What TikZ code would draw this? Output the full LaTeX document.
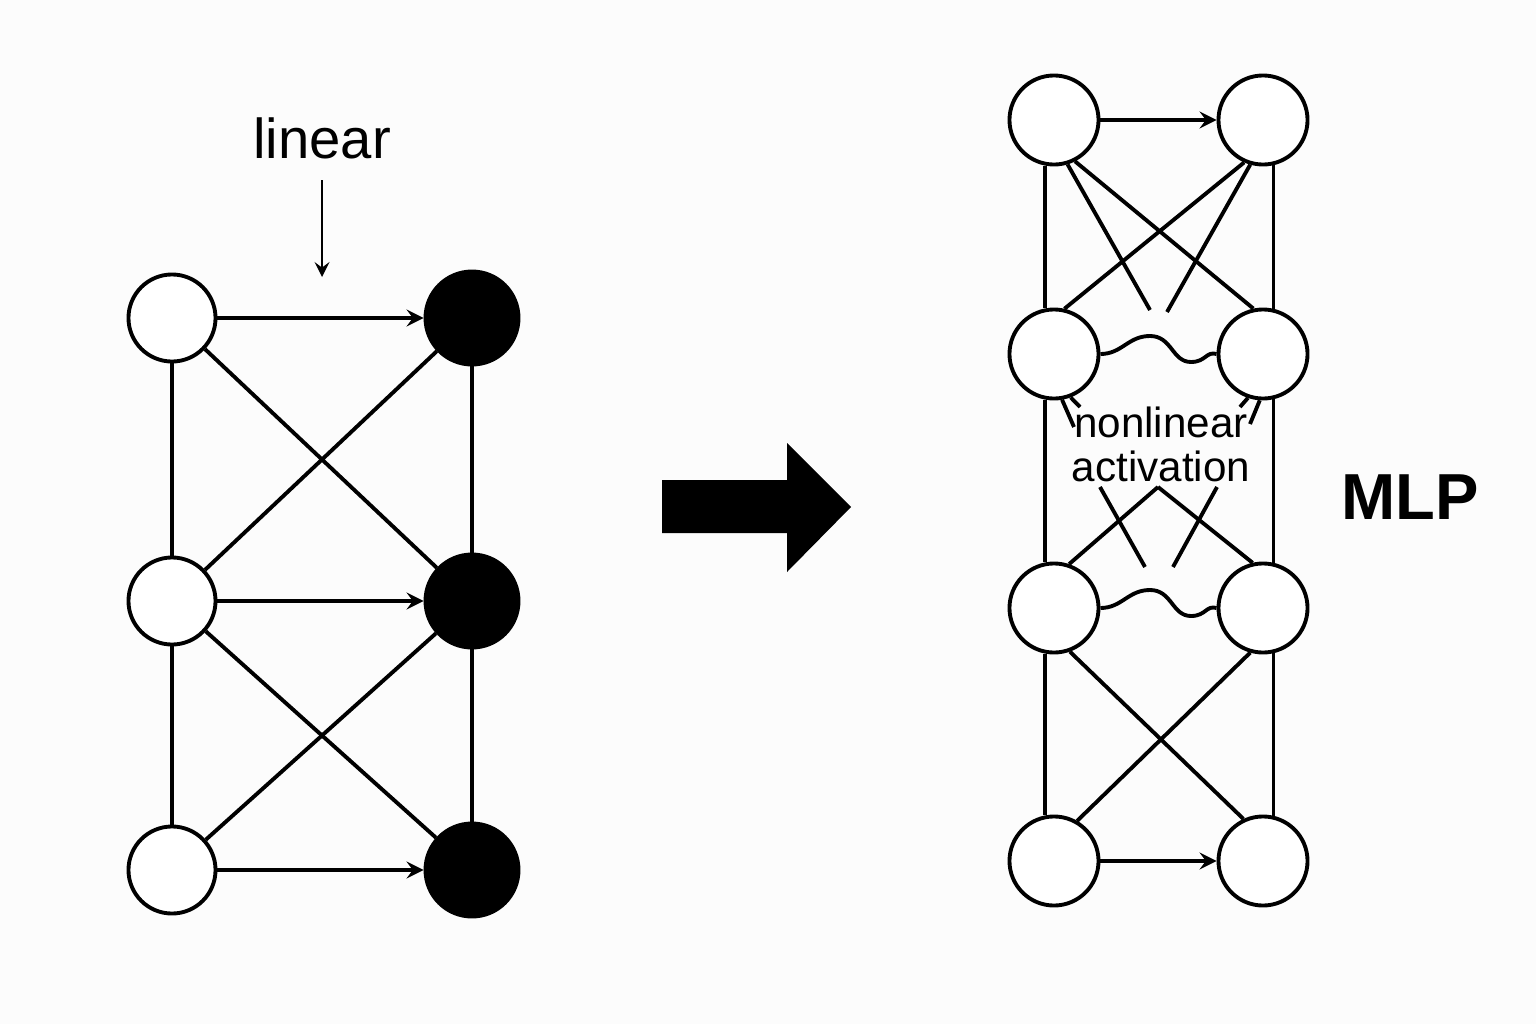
\documentclass[tikz,border=0pt]{standalone}
\usepackage{fontspec}
\setmainfont{Liberation Sans}
\usetikzlibrary{arrows}
\definecolor{paper}{RGB}{252,252,252}
\tikzset{
    x=0.01cm, y=-0.01cm, % one unit is one pixel of the sketch, y runs down
    >=stealth, % arrow heads
    neuron/.style={circle, draw, fill=white, inner sep=0pt, minimum size=0.87cm}, % white input unit
    unit/.style={circle, draw, fill=black, inner sep=0pt, minimum size=0.93cm}, % black output unit
    cell/.style={circle, draw, fill=white, inner sep=0pt, minimum size=0.89cm}, % unit of the MLP
}

\begin{document}
\begin{tikzpicture}[line width=1.1pt]
    \useasboundingbox[fill=paper] (0,0) rectangle (1536,1024);

    % linear layer
    \node[neuron] (l1) at (172,318) {};
    \node[neuron] (l2) at (172,601) {};
    \node[neuron] (l3) at (172,870) {};
    \node[unit] (r1) at (472,318) {};
    \node[unit] (r2) at (472,601) {};
    \node[unit] (r3) at (472,870) {};
    \draw
    (l1) edge[->] (r1)
    (l2) edge[->] (r2)
    (l3) edge[->] (r3)
    (l1) edge (l2)
    (l2) edge (l3)
    (r1) edge (r2)
    (r2) edge (r3)
    (l1) edge (r2)
    (l2) edge (r1)
    (l2) edge (r3)
    (l3) edge (r2);

    \node[font=\fontsize{16}{19}\selectfont] (linear) at (322,138) {linear};
    \coordinate (linfrom) at (322,180);
    \coordinate (linto) at (322,277);
    \draw[->, line width=0.85pt] (linfrom) -- (linto);

    % big arrow
    \fill (662,480) -- (787,480) -- (787,443) -- (851,507) -- (787,572) -- (787,533) -- (662,533) -- cycle;

    % MLP
    \node[cell] (a1) at (1054,120) {};
    \node[cell] (b1) at (1263,120) {};
    \node[cell] (a2) at (1054,354) {};
    \node[cell] (b2) at (1263,354) {};
    \node[cell] (a3) at (1054,608) {};
    \node[cell] (b3) at (1263,608) {};
    \node[cell] (a4) at (1054,861) {};
    \node[cell] (b4) at (1263,861) {};

    \coordinate (c1) at (1150,310);
    \coordinate (c2) at (1167,312);
    \coordinate (t1) at (1074,427);
    \coordinate (t2) at (1080,407);
    \coordinate (t3) at (1250,424);
    \coordinate (t4) at (1240,407);
    \coordinate (apex) at (1158,487);
    \coordinate (d1) at (1100,487);
    \coordinate (d2) at (1145,567);
    \coordinate (d3) at (1217,487);
    \coordinate (d4) at (1173,567);

    \draw
    (a1) edge[->] (b1)
    (a4) edge[->] (b4)
    (a1.259) edge (a2.101)
    (a2.259) edge (a3.101)
    (a3.259) edge (a4.101)
    (b1.283) edge (b2.77)
    (b2.283) edge (b3.77)
    (b3.283) edge (b4.77)
    (a1.297) edge (b2.102)
    (b1.246) edge (a2.77)
    (a1.287) edge (c1)
    (b1.254) edge (c2)
    (a2.280) edge (t1)
    (a2.291) edge (t2)
    (b2.266) edge (t3)
    (b2.251) edge (t4)
    (apex) edge (a3.71)
    (apex) edge (b3.103)
    (d1) edge (d2)
    (d3) edge (d4)
    (a3.290) edge (b4.115)
    (b3.254) edge (a4.60);

    % activations
    \draw (a2.east) .. controls (1122,354) and (1128,336) .. (1150,336)
        .. controls (1172,336) and (1172,362) .. (1191,362)
        .. controls (1206,362) and (1206,351) .. (b2.west);
    \draw (a3.east) .. controls (1122,608) and (1128,590) .. (1150,590)
        .. controls (1172,590) and (1172,616) .. (1191,616)
        .. controls (1206,616) and (1206,605) .. (b3.west);

    \node[font=\fontsize{12}{12.5}\selectfont, align=center] (act) at (1161,444) {nonlinear\\activation};
    \node[font=\bfseries\fontsize{18.5}{20}\selectfont] (mlp) at (1410,497) {MLP};
\end{tikzpicture}
\end{document}
